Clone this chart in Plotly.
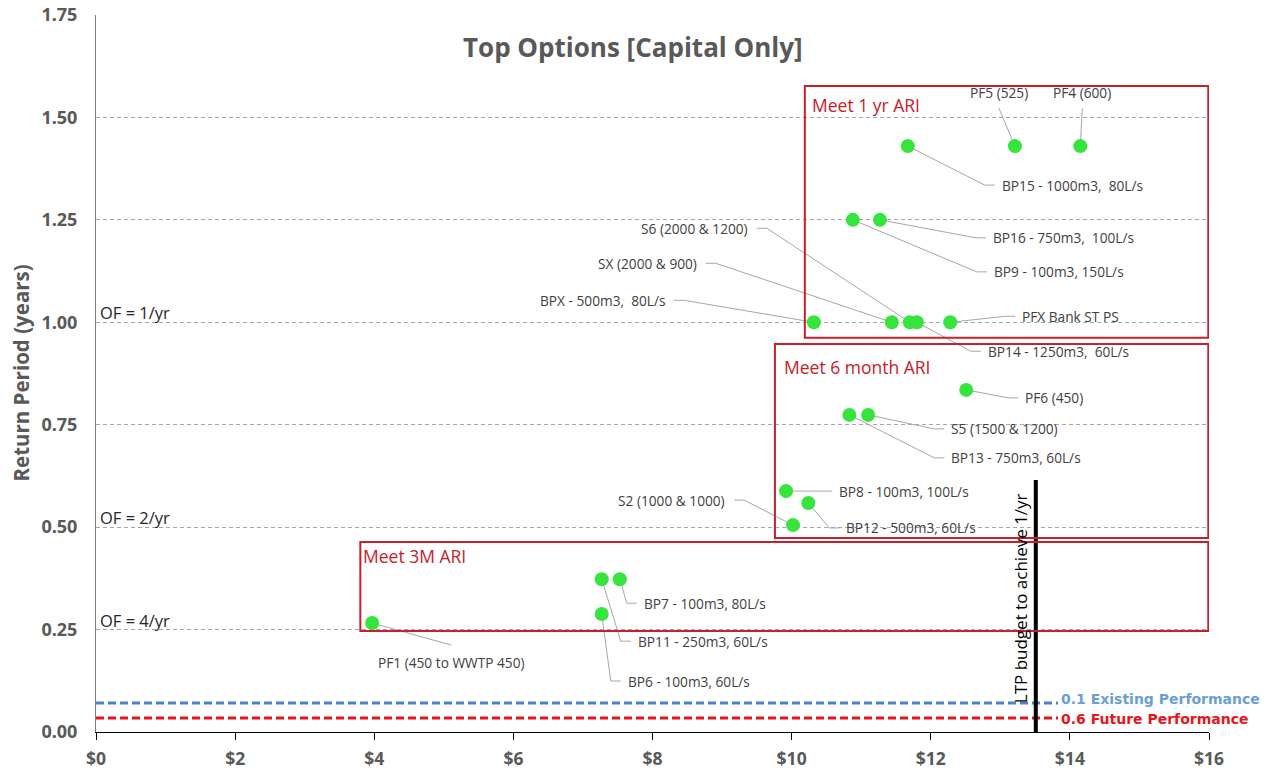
import plotly.graph_objects as go

# ---------------- data ----------------
option_names = [
    "PF5 (525)", "PF4 (600)", "BP15 - 1000m3,  80L/s", "BP16 - 750m3,  100L/s",
    "BP9 - 100m3, 150L/s", "BPX - 500m3,  80L/s", "SX (2000 & 900)", "S6 (2000 & 1200)",
    "BP14 - 1250m3,  60L/s", "PFX Bank ST PS", "PF6 (450)", "S5 (1500 & 1200)",
    "BP13 - 750m3, 60L/s", "BP8 - 100m3, 100L/s", "BP12 - 500m3, 60L/s", "S2 (1000 & 1000)",
    "BP7 - 100m3, 80L/s", "BP11 - 250m3, 60L/s", "BP6 - 100m3, 60L/s", "PF1 (450 to WWTP 450)",
]
capital_cost = [13.21, 14.15, 11.67, 11.27, 10.88, 10.32, 11.44, 11.70, 11.80, 12.28,
                12.51, 11.10, 10.83, 9.92, 10.24, 10.02, 7.53, 7.27, 7.27, 3.97]
return_period = [1.43, 1.43, 1.43, 1.25, 1.25, 1.00, 1.00, 1.00, 1.00, 1.00,
                 0.835, 0.774, 0.774, 0.588, 0.559, 0.505, 0.373, 0.373, 0.288, 0.266]

# target regions (label, cost from, cost to, return period from, to)
region_labels = ["Meet 1 yr ARI", "Meet 6 month ARI", "Meet 3M ARI"]
region_cost_lo = [10.19, 9.76, 3.80]
region_cost_hi = [15.99, 15.99, 15.99]
region_rp_lo = [0.962, 0.4735, 0.2465]
region_rp_hi = [1.577, 0.947, 0.4637]

of_labels = ["OF = 1/yr", "OF = 2/yr", "OF = 4/yr"]
of_levels = [1.0, 0.5, 0.25]

ltp_budget = 13.51
ltp_rp_top = 0.615
ltp_label = "LTP budget to achieve 1/yr"

perf_labels = ["0.1 Existing Performance", "0.6 Future Performance"]
perf_levels = [0.071, 0.034]
perf_line_end = 13.83

x_range = [0, 16]
y_range = [0, 1.75]

# ---------------- label placement (pixel offsets from each point) ----------------
lab_side = ["B", "B", "L", "L", "L", "R", "R", "R", "L", "L",
            "L", "L", "L", "L", "L", "R", "L", "L", "L", "T"]
lab_dx = [-16, 2, 92, 111, 139, -147, -193, -160, 69, 70,
          57, 81, 100, 51, 36, -66, 22, 34, 24, 79]
lab_dy = [-42, -42, 39, 18, 52, -22, -59, -94, 29, -6,
          8, 14, 43, 0, 25, -25, 24, 62, 67, 28]
region_lab_dx = [5, 7, 1]
region_lab_dy = [5, 9, 0]

W, H = 1269, 773
ML, MR, MT, MB = 96, 60, 15, 41
PW, PH = W - ML - MR, H - MT - MB
sx = (x_range[1] - x_range[0]) / PW
sy = (y_range[1] - y_range[0]) / PH

FONT = "'Open Sans', Lato, sans-serif"
WIDE = "'DejaVu Sans', 'Open Sans', sans-serif"
GREY = "#595959"
LBL = "#404040"
RED = "#c8202a"

fig = go.Figure()

# leader lines
lx_all, ly_all = [], []
annots = []
for name, cx, ry, side, dx, dy in zip(option_names, capital_cost, return_period, lab_side, lab_dx, lab_dy):
    ax = cx + dx * sx
    ay = ry - dy * sy
    if side == "L":
        pts = [(cx, ry), (ax - 15 * sx, ay), (ax - 5 * sx, ay)]
        annots.append(dict(x=ax, y=ay, text=name, xanchor="left", yanchor="middle"))
    elif side == "R":
        pts = [(cx, ry), (ax + 17 * sx, ay), (ax + 7 * sx, ay)]
        annots.append(dict(x=ax, y=ay, text=name, xanchor="right", yanchor="middle"))
    elif side == "B":
        pts = [(cx, ry), (ax, ay - 4 * sy)]
        annots.append(dict(x=ax, y=ay, text=name, xanchor="center", yanchor="bottom"))
    else:
        pts = [(cx, ry), (ax, ay + 6 * sy)]
        annots.append(dict(x=ax, y=ay, text=name, xanchor="center", yanchor="top"))
    for p in pts:
        lx_all.append(p[0])
        ly_all.append(p[1])
    lx_all.append(None)
    ly_all.append(None)

fig.add_trace(go.Scatter(x=lx_all, y=ly_all, mode="lines",
                         line=dict(color="#a6a6a6", width=1),
                         hoverinfo="skip", showlegend=False))

# region boxes
for lab, x0, x1, y0, y1, ldx, ldy in zip(region_labels, region_cost_lo, region_cost_hi,
                                          region_rp_lo, region_rp_hi, region_lab_dx, region_lab_dy):
    fig.add_shape(type="rect", x0=x0, x1=x1, y0=y0, y1=y1, xref="x", yref="y",
                  line=dict(color=RED, width=2), fillcolor="rgba(0,0,0,0)", layer="above")
    fig.add_annotation(x=x0, y=y1, xref="x", yref="y", text=lab, showarrow=False,
                       xanchor="left", yanchor="top", xshift=ldx, yshift=-ldy,
                       font=dict(family=FONT, size=17.5, color=RED))

# performance lines
perf_colors = ["#4f81c9", "#e8141b"]
perf_text_colors = ["#6a9fd6", "#e8141b"]
perf_text_shift = [4, -1]
for lab, lvl, c, tc, ys in zip(perf_labels, perf_levels, perf_colors, perf_text_colors, perf_text_shift):
    fig.add_trace(go.Scatter(x=[x_range[0], perf_line_end], y=[lvl, lvl], mode="lines",
                             line=dict(color=c, width=3, dash="8px,4px"),
                             hoverinfo="skip", showlegend=False))
    fig.add_annotation(x=perf_line_end, y=lvl, xref="x", yref="y", text="<b>" + lab + "</b>",
                       showarrow=False, xanchor="left", yanchor="middle", xshift=2, yshift=ys,
                       borderpad=0,
                       font=dict(family=WIDE, size=14, color=tc))

# LTP budget line
fig.add_trace(go.Scatter(x=[ltp_budget, ltp_budget], y=[y_range[0], ltp_rp_top], mode="lines",
                         line=dict(color="black", width=4),
                         hoverinfo="skip", showlegend=False))
fig.add_annotation(x=ltp_budget, y=(y_range[0] + ltp_rp_top) * 0.53, xref="x", yref="y",
                   text=ltp_label, showarrow=False, textangle=-90,
                   xanchor="center", yanchor="middle", xshift=-15,
                   font=dict(family=FONT, size=17, color="black"))

# points
fig.add_trace(go.Scatter(x=capital_cost, y=return_period, mode="markers",
                         marker=dict(size=14, color="#35e43c"),
                         text=option_names, hoverinfo="text", showlegend=False))

for a in annots:
    fig.add_annotation(xref="x", yref="y", showarrow=False,
                       font=dict(family=FONT, size=13.7, color=LBL), **a)

# OF labels
for lab, lvl in zip(of_labels, of_levels):
    fig.add_annotation(x=x_range[0], y=lvl, xref="x", yref="y", text=lab, showarrow=False,
                       xanchor="left", yanchor="bottom", xshift=2, yshift=-4,
                       font=dict(family=FONT, size=16.5, color="#262626"))

# title
fig.add_annotation(x=(633 - ML) / PW, y=(H - MB - 47) / PH, xref="paper", yref="paper",
                   text="<b>Top Options [Capital Only]</b>", showarrow=False,
                   xanchor="center", yanchor="middle",
                   font=dict(family=FONT, size=26, color=GREY))

# y axis title
fig.add_annotation(x=(20 - ML) / PW, y=0.5, xref="paper", yref="paper",
                   text="<b>Return Period (years)</b>", showarrow=False, textangle=-90,
                   xanchor="center", yanchor="middle",
                   font=dict(family=FONT, size=20.5, color=GREY))

fig.update_layout(
    width=W, height=H,
    margin=dict(l=ML, r=MR, t=MT, b=MB),
    plot_bgcolor="white", paper_bgcolor="white",
    font=dict(family=FONT, color=GREY),
    xaxis=dict(range=x_range, dtick=2, tick0=0, tickprefix="$", showgrid=False,
               zeroline=False, showline=True, linecolor="black", linewidth=1,
               ticks="outside", ticklen=7, tickcolor="black", automargin=False,
               ticklabelstandoff=4,
               tickfont=dict(family=FONT, size=17.5, color=GREY, weight="bold")),
    yaxis=dict(range=y_range, dtick=0.25, tick0=0, tickformat=".2f",
               showgrid=True, gridcolor="#a6a6a6", griddash="4px,3px", gridwidth=1,
               zeroline=False, showline=True, linecolor="#7f7f7f", linewidth=1,
               ticks="", ticklabelstandoff=14, automargin=False,
               tickfont=dict(family=FONT, size=18, color=GREY, weight="bold")),
)

fig.write_html("out.html", config={"displayModeBar": False},
               post_script="document.body.style.margin='0';document.body.style.overflow='hidden';")
